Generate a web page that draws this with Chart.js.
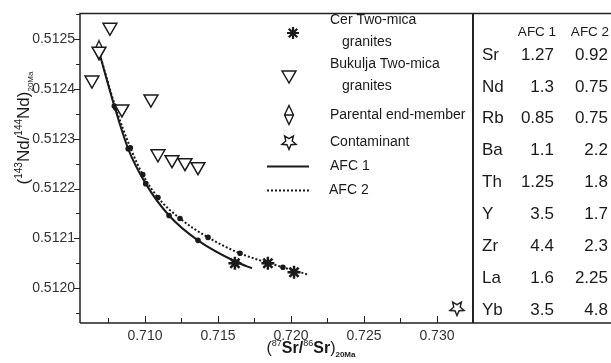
<!DOCTYPE html>
<html>
<head>
<meta charset="utf-8">
<script src="https://cdn.jsdelivr.net/npm/chart.js@4.4.1/dist/chart.umd.min.js"></script>
<style>
  html, body { margin: 0; padding: 0; background: #fff; }
  #wrap { width: 611px; height: 363px; position: relative; }
</style>
</head>
<body>
<div id="wrap"><canvas id="afcChart" width="611" height="363"></canvas></div>
<script>
// Sample data
const cerX = [0.71616, 0.71842, 0.72021];
const cerY = [0.512050, 0.512050, 0.512032];

const bukX = [0.70760, 0.70637, 0.70842, 0.71041, 0.71089, 0.71185, 0.71274, 0.71363, 0.70685];
const bukY = [0.512524, 0.512418, 0.512360, 0.512380, 0.512270, 0.512258, 0.512252, 0.512244, 0.512476];

const parentX = [0.70685];
const parentY = [0.512478];

const contamX = [0.73137];
const contamY = [0.511960];

const afc1X = [0.70690, 0.70790, 0.70885, 0.71005, 0.71165, 0.71363, 0.71630, 0.71733];
const afc1Y = [0.512470, 0.512366, 0.512280, 0.512210, 0.512146, 0.512096, 0.512052, 0.512040];

const afc2X = [0.70690, 0.70800, 0.70900, 0.70985, 0.71089, 0.71240, 0.71432, 0.71651, 0.71945, 0.72110];
const afc2Y = [0.512470, 0.512362, 0.512282, 0.512228, 0.512182, 0.512140, 0.512102, 0.512070, 0.512042, 0.512028];

// axis ticks
const xTicks = [0.710, 0.715, 0.720, 0.725, 0.730];
const yTicks = [0.5120, 0.5121, 0.5122, 0.5123, 0.5124, 0.5125];

// partition coefficient table
const tableHead = ['AFC 1', 'AFC 2'];
const tableElem = ['Sr', 'Nd', 'Rb', 'Ba', 'Th', 'Y', 'Zr', 'La', 'Yb'];
const afc1Coef = ['1.27', '1.3', '0.85', '1.1', '1.25', '3.5', '4.4', '1.6', '3.5'];
const afc2Coef = ['0.92', '0.75', '0.75', '2.2', '1.8', '1.7', '2.3', '2.25', '4.8'];

const pts = (xs, ys) => xs.map((x, i) => ({ x: x, y: ys[i] }));
const FONT = '"Liberation Sans", Arial, sans-serif';
const INK = '#1a1a1a';

/* custom marker images */
function makeDiamond() {
    const c = document.createElement('canvas');
    c.width = 12; c.height = 22;
    const g = c.getContext('2d');
    g.strokeStyle = INK; g.lineWidth = 1.4;
    g.beginPath();
    g.moveTo(6, 1.5); g.lineTo(10.5, 11); g.lineTo(6, 20.5); g.lineTo(1.5, 11); g.closePath();
    g.moveTo(1.5, 11); g.lineTo(10.5, 11);
    g.stroke();
    return c;
}
function makeStar() {
    const c = document.createElement('canvas');
    c.width = 18; c.height = 18;
    const g = c.getContext('2d');
    g.strokeStyle = INK; g.lineWidth = 1.4; g.fillStyle = '#fff';
    g.beginPath();
    for (let i = 0; i < 10; i++) {
        const r = i % 2 === 0 ? 7.5 : 3.4;
        const a = Math.PI / 2 + i * Math.PI / 5;   // point down
        const px = 9 + Math.cos(a) * r, py = 9 + Math.sin(a) * r;
        if (i === 0) g.moveTo(px, py); else g.lineTo(px, py);
    }
    g.closePath(); g.fill(); g.stroke();
    return c;
}
const diamondImg = makeDiamond();
const starImg = makeStar();

// dots only on inner nodes of the AFC curves
const innerDots = (ctx) => {
    const n = ctx.dataset.data.length;
    return (ctx.dataIndex === 0 || ctx.dataIndex === n - 1) ? 0 : 1.8;
};

/* text with super/subscripts */
function richWidth(ctx, parts) {
    let w = 0;
    parts.forEach(p => { ctx.font = p.f; w += ctx.measureText(p.t).width; });
    return w;
}
function drawRich(ctx, parts, cx, baseY) {
    let x = cx - richWidth(ctx, parts) / 2;
    ctx.textAlign = 'left';
    ctx.textBaseline = 'alphabetic';
    parts.forEach(p => {
        ctx.font = p.f;
        ctx.fillText(p.t, x, baseY + p.dy);
        x += ctx.measureText(p.t).width;
    });
}

const decorPlugin = {
    id: 'decor',
    afterDraw(chart) {
        const ctx = chart.ctx;
        const xs = chart.scales.x, ys = chart.scales.y;
        const a = chart.chartArea;
        ctx.save();
        ctx.strokeStyle = '#222';
        ctx.fillStyle = INK;

        // frame
        ctx.lineWidth = 1.5;
        ctx.beginPath();
        ctx.moveTo(a.left, a.bottom); ctx.lineTo(a.left, a.top); ctx.lineTo(611, a.top);
        ctx.moveTo(a.left, a.bottom); ctx.lineTo(611, a.bottom);
        ctx.stroke();
        ctx.lineWidth = 2;
        ctx.beginPath();
        ctx.moveTo(a.right, a.top); ctx.lineTo(a.right, a.bottom);
        ctx.stroke();

        // ticks: y outside, x inside
        ctx.lineWidth = 1;
        ctx.beginPath();
        for (let v = 0.51195; v <= 0.51255; v += 0.00005) {
            const py = Math.round(ys.getPixelForValue(v)) + 0.5;
            if (py < a.top + 1 || py > a.bottom - 1) continue;
            const major = Math.abs(Math.round(v * 10000) - v * 10000) < 1e-6;
            ctx.moveTo(a.left, py); ctx.lineTo(a.left - (major ? 6 : 4), py);
        }
        for (let v = 0.7075; v <= 0.7325; v += 0.0025) {
            const px = Math.round(xs.getPixelForValue(v)) + 0.5;
            if (px > a.right - 1) continue;
            const major = Math.abs(Math.round(v * 200) - v * 200) < 1e-6;
            ctx.moveTo(px, a.bottom); ctx.lineTo(px, a.bottom - (major ? 7 : 5));
        }
        ctx.stroke();

        // axis titles
        const big = 'bold 16px ' + FONT, sup = '9px ' + FONT, sub = 'bold 8px ' + FONT;
        drawRich(ctx, [
            { t: '(', f: '16px ' + FONT, dy: 0 },
            { t: '87', f: sup, dy: -7 },
            { t: 'Sr/', f: big, dy: 0 },
            { t: '86', f: sup, dy: -7 },
            { t: 'Sr', f: big, dy: 0 },
            { t: ')', f: '16px ' + FONT, dy: 0 },
            { t: '20Ma', f: sub, dy: 4 }
        ], 311, 353);

        ctx.save();
        ctx.translate(29, 128);
        ctx.rotate(-Math.PI / 2);
        const yb = '17px ' + FONT, ysup = '10px ' + FONT;
        drawRich(ctx, [
            { t: '(', f: yb, dy: 0 },
            { t: '143', f: ysup, dy: -7 },
            { t: 'Nd/', f: yb, dy: 0 },
            { t: '144', f: ysup, dy: -7 },
            { t: 'Nd)', f: yb, dy: 0 },
            { t: '20Ma', f: '8px ' + FONT, dy: 4 }
        ], 0, 0);
        ctx.restore();

        // legend
        ctx.font = '14px ' + FONT;
        ctx.textAlign = 'left';
        ctx.textBaseline = 'middle';
        ctx.fillStyle = INK;
        [['Cer Two-mica', 330, 20], ['granites', 342, 42], ['Bukulja Two-mica', 330, 64],
         ['granites', 342, 86], ['Parental end-member', 330, 115], ['Contaminant', 330, 142],
         ['AFC 1', 330, 166], ['AFC 2', 329, 190]].forEach(r => ctx.fillText(r[0], r[1], r[2]));

        // legend markers
        ctx.strokeStyle = INK;
        ctx.lineWidth = 2.2;
        ctx.beginPath();
        const ax = 293, ay = 33, ar = 6;
        ctx.moveTo(ax - ar, ay); ctx.lineTo(ax + ar, ay);
        ctx.moveTo(ax, ay - ar); ctx.lineTo(ax, ay + ar);
        const d = ar * 0.7071;
        ctx.moveTo(ax - d, ay - d); ctx.lineTo(ax + d, ay + d);
        ctx.moveTo(ax - d, ay + d); ctx.lineTo(ax + d, ay - d);
        ctx.stroke();

        ctx.lineWidth = 1.5;
        ctx.beginPath();
        const tr = 8, tx = 289, ty = 75;
        ctx.moveTo(tx, ty + tr);
        ctx.lineTo(tx - tr * 0.866, ty - tr / 2);
        ctx.lineTo(tx + tr * 0.866, ty - tr / 2);
        ctx.closePath();
        ctx.stroke();

        ctx.drawImage(diamondImg, 289 - 6, 115 - 11);
        ctx.drawImage(starImg, 289 - 9, 142 - 9);

        ctx.lineWidth = 2;
        ctx.beginPath();
        ctx.moveTo(267, 166.5); ctx.lineTo(309, 166.5);
        ctx.stroke();
        ctx.setLineDash([2, 2]);
        ctx.beginPath();
        ctx.moveTo(267, 190.5); ctx.lineTo(309, 190.5);
        ctx.stroke();
        ctx.setLineDash([]);

        // table
        ctx.font = '13.5px ' + FONT;
        ctx.textAlign = 'center';
        ctx.fillText(tableHead[0], 537, 32);
        ctx.fillText(tableHead[1], 590, 32);
        ctx.font = '17px ' + FONT;
        tableElem.forEach((el, i) => {
            const ry = 55 + i * 31.9;
            ctx.textAlign = 'left';
            ctx.fillText(el, 482, ry);
            ctx.textAlign = 'right';
            ctx.fillText(afc1Coef[i], 554, ry);
            ctx.fillText(afc2Coef[i], 608, ry);
        });

        ctx.restore();
    }
};

new Chart(document.getElementById('afcChart'), {
    type: 'scatter',
    data: {
        datasets: [
            {
                label: 'Cer Two-mica granites',
                data: pts(cerX, cerY),
                pointStyle: 'star', pointRadius: 6.5, borderWidth: 2.5,
                borderColor: INK, backgroundColor: INK
            },
            {
                label: 'Bukulja Two-mica granites',
                data: pts(bukX, bukY),
                pointStyle: 'triangle', rotation: 180, pointRadius: 8, borderWidth: 1.5,
                borderColor: INK, backgroundColor: '#fff'
            },
            {
                label: 'Parental end-member',
                data: pts(parentX, parentY),
                pointStyle: diamondImg
            },
            {
                label: 'Contaminant',
                data: pts(contamX, contamY),
                pointStyle: starImg
            },
            {
                label: 'AFC 1',
                data: pts(afc1X, afc1Y),
                showLine: true, cubicInterpolationMode: 'monotone',
                borderColor: INK, backgroundColor: INK, borderWidth: 2,
                pointRadius: innerDots, pointStyle: 'circle'
            },
            {
                label: 'AFC 2',
                data: pts(afc2X, afc2Y),
                showLine: true, cubicInterpolationMode: 'monotone',
                borderColor: INK, backgroundColor: INK, borderWidth: 2, borderDash: [2, 2],
                pointRadius: innerDots, pointStyle: 'circle'
            }
        ]
    },
    options: {
        responsive: false,
        animation: false,
        layout: { padding: { top: 12, right: 138, left: 0, bottom: 0 } },
        plugins: { legend: { display: false }, tooltip: { enabled: false } },
        scales: {
            x: {
                type: 'linear', min: 0.70555, max: 0.73247,
                grid: { display: false, drawTicks: false },
                border: { display: false },
                afterBuildTicks: s => { s.ticks = xTicks.map(v => ({ value: v })); },
                afterFit: s => { s.height = 40; },
                ticks: {
                    padding: 5, color: '#333', maxRotation: 0,
                    font: { size: 14, family: FONT },
                    callback: v => Number(v).toFixed(3)
                }
            },
            y: {
                type: 'linear', min: 0.51193, max: 0.512552,
                grid: { display: false, drawTicks: false },
                border: { display: false },
                afterBuildTicks: s => { s.ticks = yTicks.map(v => ({ value: v })); },
                afterFit: s => { s.width = 80; },
                ticks: {
                    padding: 5, color: '#333',
                    font: { size: 14, family: FONT },
                    callback: v => Number(v).toFixed(4)
                }
            }
        }
    },
    plugins: [decorPlugin]
});
</script>
</body>
</html>
